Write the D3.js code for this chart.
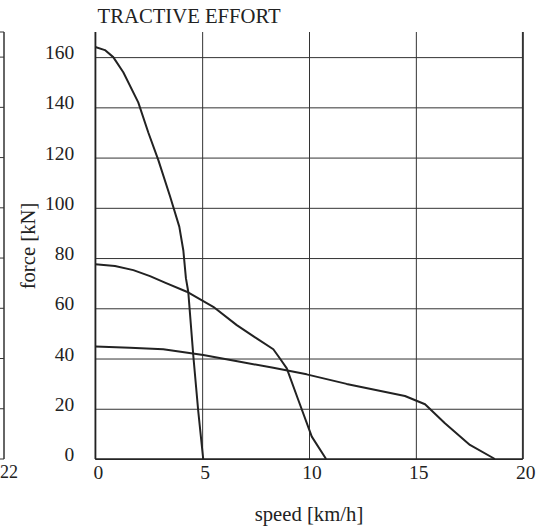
<!DOCTYPE html>
<html>
<head>
<meta charset="utf-8">
<script src="https://cdn.jsdelivr.net/npm/d3@7"></script>
<style>
  html, body { margin: 0; padding: 0; background: #fff; }
  svg { display: block; }
  text { font-family: "Liberation Serif", "Times New Roman", Tinos, "DejaVu Serif", "Noto Serif", "FreeSerif", Times, serif; fill: #222; }
</style>
</head>
<body>
<svg id="chart" width="549" height="528"></svg>
<script>
// ---- data ----
const title = "TRACTIVE EFFORT";
const xLabel = "speed [km/h]";
const yLabel = "force [kN]";
const xTicks = [0, 5, 10, 15, 20];
const yTicks = [0, 20, 40, 60, 80, 100, 120, 140, 160];
const neighbourTick = "22";

// curve 1 (steep, low gear)
const curve1Speed = [0, 0.45, 0.84, 1.31, 2.01, 2.48, 2.95, 3.5, 3.93, 4.12, 4.24, 4.35, 4.59, 4.82, 5.05];
const curve1Force = [164, 162.8, 160, 154, 142, 130, 119, 104.5, 92.5, 83, 72, 66.6, 40.7, 18.8, 0];
// curve 2 (middle gear)
const curve2Speed = [0, 0.92, 1.78, 2.56, 3.26, 4.28, 5.52, 6.62, 7.55, 8.33, 8.64, 8.96, 9.5, 10.13, 10.8];
const curve2Force = [77.5, 76.8, 75.2, 72.8, 70.2, 66.6, 60.6, 53.3, 48, 43.7, 40, 36.1, 23.5, 8.9, 0];
// curve 3 (high gear)
const curve3Speed = [0, 1.62, 3.18, 5.05, 6.77, 8.33, 9.89, 11.76, 14.49, 15.43, 16.36, 17.53, 18.7];
const curve3Force = [44.8, 44.3, 43.7, 41.4, 38.7, 36.3, 33.7, 29.9, 25.1, 21.8, 14.2, 5.6, 0];

// ---- layout ----
const svg = d3.select("#chart");
const x = d3.scaleLinear().domain([0, 20]).range([95.3, 522.7]);
const y = d3.scaleLinear().domain([0, 170]).range([459, 32]);
const [x0, x1] = x.range();
const [yb, yt] = y.range();

// neighbour panel fragment at the left edge
const nb = svg.append("g");
nb.append("line").attr("x1", 4).attr("x2", 4).attr("y1", yt).attr("y2", yb)
  .attr("stroke", "#333").attr("stroke-width", 1.5);
nb.selectAll("line.stub").data(yTicks.concat([170])).enter().append("line")
  .attr("class", "stub").attr("x1", 0).attr("x2", 4)
  .attr("y1", d => y(d)).attr("y2", d => y(d))
  .attr("stroke", "#333").attr("stroke-width", 1);
nb.append("text").attr("x", 0).attr("y", 478).attr("font-size", 18).text(neighbourTick);

// horizontal gridlines + y labels
const gy = svg.append("g").attr("transform", `translate(${x0},0)`)
  .call(d3.axisLeft(y).tickValues(yTicks).tickSize(-(x1 - x0)).tickPadding(21));
gy.attr("font-family", null);
gy.select(".domain").remove();
gy.selectAll(".tick line").attr("stroke", "#333").attr("stroke-width", 1);
gy.selectAll(".tick text").attr("font-size", 19.5).attr("fill", "#222").attr("dy", "1.5px");

// vertical gridlines + x labels
const gx = svg.append("g").attr("transform", `translate(0,${yb})`)
  .call(d3.axisBottom(x).tickValues(xTicks).tickSize(-(yb - yt)).tickPadding(6));
gx.attr("font-family", null);
gx.select(".domain").remove();
gx.selectAll(".tick line").attr("stroke", "#333").attr("stroke-width", 1);
gx.selectAll(".tick text").attr("font-size", 19.5).attr("fill", "#222").attr("dx", "2.5px");

// axis frame lines (left, bottom, right)
svg.append("line").attr("x1", x0).attr("x2", x0).attr("y1", yt).attr("y2", yb)
  .attr("stroke", "#222").attr("stroke-width", 1.6);
svg.append("line").attr("x1", x1).attr("x2", x1).attr("y1", yt).attr("y2", yb)
  .attr("stroke", "#333").attr("stroke-width", 1.6);
svg.append("line").attr("x1", x0).attr("x2", x1).attr("y1", yb).attr("y2", yb)
  .attr("stroke", "#222").attr("stroke-width", 1.6);

// curves
const line = d3.line().x(d => x(d[0])).y(d => y(d[1]));
const curves = [
  d3.zip(curve1Speed, curve1Force),
  d3.zip(curve2Speed, curve2Force),
  d3.zip(curve3Speed, curve3Force)
];
svg.append("g").selectAll("path").data(curves).enter().append("path")
  .attr("d", line).attr("fill", "none").attr("stroke", "#222")
  .attr("stroke-width", 2).attr("stroke-linejoin", "round");

// texts
svg.append("text").attr("x", 97.5).attr("y", 22.5).attr("font-size", 20.7).text(title);
svg.append("text").attr("x", (x0 + x1) / 2).attr("y", 521).attr("font-size", 20.7)
  .attr("text-anchor", "middle").text(xLabel);
svg.append("text").attr("transform", "translate(35,246) rotate(-90)")
  .attr("font-size", 20.7).attr("text-anchor", "middle").text(yLabel);
</script>
</body>
</html>
